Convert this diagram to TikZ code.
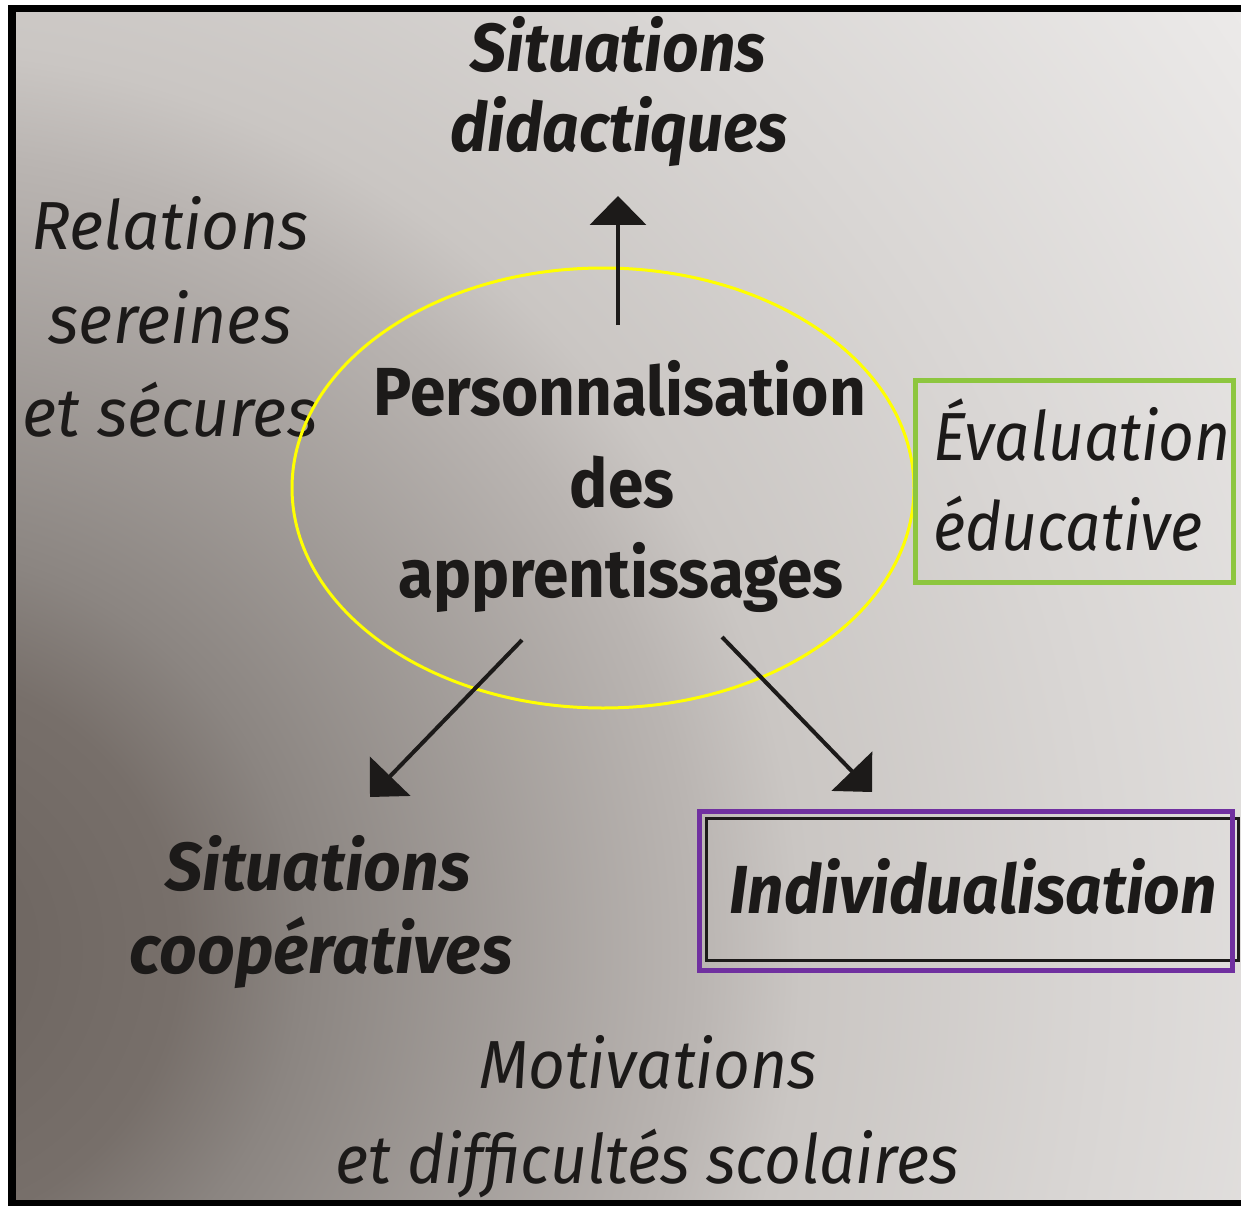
\documentclass[tikz,border=0pt]{standalone}
\usepackage{fontspec}
\setmainfont{Fira Sans}
\newfontfamily\condA[FakeStretch=0.94]{Fira Sans}
\newfontfamily\condB[FakeStretch=0.97]{Fira Sans}
\newfontfamily\condC[FakeStretch=0.915]{Fira Sans}
\usetikzlibrary{arrows.meta}
\definecolor{ink}{HTML}{1C1A19}
\definecolor{hiyellow}{HTML}{FFFF00}
\definecolor{higreen}{HTML}{8DC63F}
\definecolor{hipurple}{HTML}{7030A0}
\definecolor{pa0}{HTML}{6A625D}
\definecolor{pa1}{HTML}{776F6A}
\definecolor{pa2}{HTML}{8B8581}
\definecolor{pa3}{HTML}{BAB5B2}
\definecolor{pa4}{HTML}{CAC6C3}
\definecolor{pa5}{HTML}{D9D6D4}
\definecolor{pa6}{HTML}{EAE8E7}
\definecolor{pa7}{HTML}{EFEDEC}
\pgfdeclareradialshading{paper}{\pgfpoint{0bp}{0bp}}{color(0bp)=(pa0); color(4.1bp)=(pa1); color(5.9bp)=(pa2); color(11.75bp)=(pa3); color(13.25bp)=(pa4); color(17.65bp)=(pa5); color(23.5bp)=(pa6); color(25bp)=(pa7); color(50bp)=(pa7)}
\begin{document}
\begin{tikzpicture}[x=1pt,y=-1pt,
  lbl/.style={text=ink, inner sep=0pt, anchor=base},
  bi/.style={lbl, font=\fontsize{68}{80}\condA\bfseries\itshape},
  biB/.style={lbl, font=\fontsize{68}{80}\condB\bfseries\itshape},
  it/.style={lbl, font=\fontsize{68}{80}\condA\itshape},
  itB/.style={lbl, font=\fontsize{68}{80}\condB\itshape},
  itC/.style={lbl, font=\fontsize{68}{80}\condC\itshape},
  bf/.style={lbl, font=\fontsize{68}{80}\condA\bfseries},
  arr/.style={draw=ink, line width=4pt, -{Triangle[length=29pt,width=56pt]}},
  hibox/.style={line width=5pt}]
\useasboundingbox (0,0) rectangle (1241,1206);
\fill[white] (0,0) rectangle (1241,1206);
\fill[black] (8,5) rectangle (1241,1206);
\begin{scope}
  \clip (16,13) rectangle (1241,1199);
  \shade[shading=paper] (-100,950) circle[radius=1700pt];
\end{scope}

% top block
\node[bi] (sd1) at (618,72) {Situations};
\node[bi] (sd2) at (619,152) {didactiques};
% left block
\node[itB] (rs1) at (170,250) {Relations};
\node[itB] (rs2) at (170,343) {sereines};
\node[itB] (rs3) at (170,436) {et sécures};
% centre
\node[bf] (pa1) at (620,415) {Personnalisation};
\node[bf] (pa2) at (622,507) {des};
\node[bf] (pa3) at (621,597) {apprentissages};
\draw[hiyellow, line width=3pt] (603,488) ellipse[x radius=311pt, y radius=220pt];
% right block
\node[itC, anchor=base west] (ev1) at (933,460) {Évaluation};
\node[itC, anchor=base west] (ev2) at (933,550) {éducative};
\draw[higreen, hibox] (915,380) rectangle (1233,582);
% bottom left
\node[biB] (sc1) at (318,890) {Situations};
\node[biB] (sc2) at (321,973) {coopératives};
% bottom right
\node[bi] (ind) at (973,913) {Individualisation};
\draw[ink, line width=3pt] (706,818) rectangle (1238,960);
\draw[hipurple, hibox] (699,811) rectangle (1232,970);
% bottom
\node[it] (mo1) at (648,1088) {Motivations};
\node[it] (mo2) at (647,1183) {et difficultés scolaires};

% arrows
\coordinate (upS) at (618,325);
\coordinate (upE) at (618,196);
\coordinate (lS) at (522,640);
\coordinate (lE) at (370,797);
\coordinate (rS) at (722,637);
\coordinate (rE) at (872,792);
\draw[arr] (upS) -- (upE);
\draw[arr] (lS) -- (lE);
\draw[arr] (rS) -- (rE);
\end{tikzpicture}
\end{document}
